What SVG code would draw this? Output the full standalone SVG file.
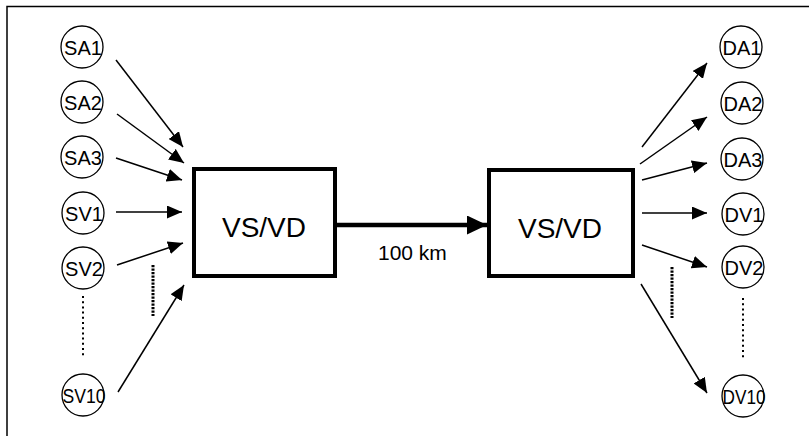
<svg xmlns="http://www.w3.org/2000/svg" width="809" height="436" viewBox="0 0 809 436">
<style>
.n circle{fill:#fff;stroke:#000;stroke-width:1.3}
.n text{font-family:"Liberation Sans",Arial,sans-serif;font-size:20px;text-anchor:middle;fill:#000}
.box rect{fill:#fff;stroke:#000;stroke-width:4}
.box text{font-family:"Liberation Sans",Arial,sans-serif;font-size:28px;text-anchor:middle;fill:#000}
.c line{stroke:#000;stroke-width:1.5;fill:none}
.c line.thin{marker-end:url(#ah)}
.dot{stroke:#000;stroke-width:2;stroke-dasharray:2 3.2;fill:none}
.dotb{stroke:#000;stroke-width:3;stroke-dasharray:2.2 1.3;fill:none}
.lbl{font-family:"Liberation Sans",Arial,sans-serif;font-size:21px;fill:#000}
</style>
<defs>
<marker id="ah" markerUnits="userSpaceOnUse" markerWidth="16" markerHeight="13" refX="15" refY="6.5" orient="auto">
<path d="M0,0 L15,6.5 L0,13 z" fill="#000"/>
</marker>
<marker id="ahb" markerUnits="userSpaceOnUse" markerWidth="21" markerHeight="19" refX="20" refY="9.5" orient="auto">
<path d="M0,0 L20,9.5 L0,19 z" fill="#000"/>
</marker>
</defs>
<rect width="809" height="436" fill="#fff"/>
<g id="frame" fill="none" stroke="#000" stroke-width="1.5">
<path d="M7,436 V6.5 H809"/>
</g>
<g id="connectors" class="c">
<line class="thin" x1="116" y1="60" x2="183" y2="147"/>
<line class="thin" x1="117" y1="114" x2="184" y2="163"/>
<line class="thin" x1="116" y1="158" x2="182" y2="180"/>
<line class="thin" x1="116" y1="212" x2="182" y2="212"/>
<line class="thin" x1="117" y1="265" x2="183" y2="243"/>
<line class="thin" x1="118" y1="392" x2="184" y2="285"/>
<line x1="337" y1="225" x2="487" y2="225" style="stroke-width:4.5;marker-end:url(#ahb)"/>
<line class="thin" x1="642" y1="147" x2="707" y2="63"/>
<line class="thin" x1="640" y1="164" x2="707" y2="117"/>
<line class="thin" x1="642" y1="180" x2="707" y2="163"/>
<line class="thin" x1="642" y1="213" x2="707" y2="213"/>
<line class="thin" x1="642" y1="245" x2="707" y2="267"/>
<line class="thin" x1="641" y1="284" x2="707" y2="393"/>
</g>
<g id="ellipsis">
<line class="dot" x1="83" y1="296" x2="83" y2="358"/>
<line class="dotb" x1="153" y1="265" x2="153" y2="316"/>
<line class="dotb" x1="672" y1="267" x2="672" y2="318"/>
<line class="dot" x1="743" y1="298" x2="743" y2="360"/>
</g>
<text class="lbl" x="378" y="260">100 km</text>
<g id="box1" class="box"><rect x="194" y="169" width="141" height="107"/><text x="264" y="237">VS/VD</text></g>
<g id="box2" class="box"><rect x="489" y="170" width="144" height="106"/><text x="560" y="238">VS/VD</text></g>
<g id="SA1" class="n"><circle cx="82" cy="47" r="21"/><text x="83" y="54.5">SA1</text></g>
<g id="SA2" class="n"><circle cx="82" cy="102" r="21"/><text x="83" y="109.5">SA2</text></g>
<g id="SA3" class="n"><circle cx="82" cy="157" r="21"/><text x="83" y="164.5">SA3</text></g>
<g id="SV1" class="n"><circle cx="83" cy="213" r="21"/><text x="84" y="220.5">SV1</text></g>
<g id="SV2" class="n"><circle cx="83" cy="268" r="21"/><text x="84" y="275.5">SV2</text></g>
<g id="SV10" class="n"><circle cx="83" cy="395" r="21"/><text x="84" y="402.5" textLength="43" lengthAdjust="spacingAndGlyphs">SV10</text></g>
<g id="DA1" class="n"><circle cx="741" cy="47" r="21"/><text x="742" y="54.5">DA1</text></g>
<g id="DA2" class="n"><circle cx="742" cy="103" r="21"/><text x="743" y="110.5">DA2</text></g>
<g id="DA3" class="n"><circle cx="742" cy="159" r="21"/><text x="743" y="166.5">DA3</text></g>
<g id="DV1" class="n"><circle cx="743" cy="214" r="21"/><text x="744" y="221.5">DV1</text></g>
<g id="DV2" class="n"><circle cx="743" cy="267" r="21"/><text x="744" y="274.5">DV2</text></g>
<g id="DV10" class="n"><circle cx="743" cy="396" r="21"/><text x="744" y="403.5" textLength="43" lengthAdjust="spacingAndGlyphs">DV10</text></g>
</svg>
